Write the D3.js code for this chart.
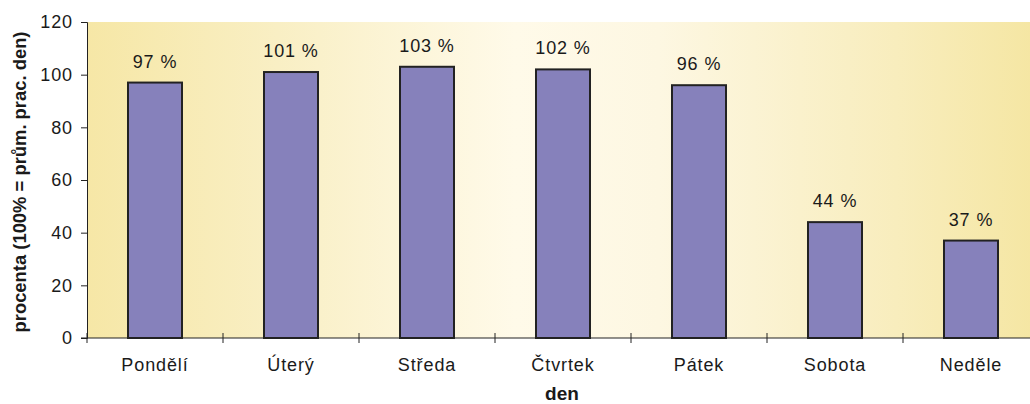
<!DOCTYPE html>
<html>
<head>
<meta charset="utf-8">
<script src="https://cdn.jsdelivr.net/npm/d3@7"></script>
<style>
  html, body { margin: 0; padding: 0; background: #ffffff; }
  svg { display: block; font-family: "Liberation Sans", Arial, Helvetica, sans-serif; }
</style>
</head>
<body>
<svg id="chart" width="1030" height="404"></svg>
<script>
// Days of the week and their traffic relative to the average working day
const days = ["Pondělí", "Úterý", "Středa", "Čtvrtek", "Pátek", "Sobota", "Neděle"];
const percent = [97, 101, 103, 102, 96, 44, 37];
const yTicks = [0, 20, 40, 60, 80, 100, 120];

const svg = d3.select("#chart");
const margin = { left: 87, top: 22, bottom: 66 };
const plotW = 136 * days.length;
const plotH = 404 - margin.top - margin.bottom;

const x = d3.scaleBand().domain(days).range([margin.left, margin.left + plotW]).paddingInner(0).paddingOuter(0);
const y = d3.scaleLinear().domain([0, 120]).range([margin.top + plotH, margin.top]);

// Plot background: pale yellow fading to cream in the middle
const defs = svg.append("defs");
const grad = defs.append("linearGradient").attr("id", "bg").attr("x1", "0").attr("x2", "1").attr("y1", "0").attr("y2", "0");
[[0, "#f6e7a6"], [0.2, "#f9efc4"], [0.45, "#fffae9"], [0.6, "#fdf7e2"], [0.85, "#f8edbd"], [1, "#f5e6a2"]]
  .forEach(([o, c]) => grad.append("stop").attr("offset", o).attr("stop-color", c));

svg.append("rect")
  .attr("x", margin.left).attr("y", margin.top)
  .attr("width", plotW).attr("height", plotH)
  .attr("fill", "url(#bg)");

// Bars
const barW = 54;
svg.append("g").selectAll("rect").data(days).join("rect")
  .attr("x", (d) => x(d) + x.bandwidth() / 2 - barW / 2)
  .attr("y", (d, i) => y(percent[i]))
  .attr("width", barW)
  .attr("height", (d, i) => y(0) - y(percent[i]))
  .attr("fill", "#8681bb")
  .attr("stroke", "#222222")
  .attr("stroke-width", 2);

// Value labels
svg.append("g").selectAll("text").data(days).join("text")
  .attr("x", (d) => x(d) + x.bandwidth() / 2)
  .attr("y", (d, i) => y(percent[i]) - 15)
  .attr("text-anchor", "middle")
  .attr("font-size", 18)
  .attr("letter-spacing", 0.9)
  .attr("fill", "#1a1a1a")
  .text((d, i) => percent[i] + " %");

// Y axis
const yAxis = d3.axisLeft(y).tickValues(yTicks).tickSize(6).tickPadding(8);
const gy = svg.append("g").attr("transform", `translate(${margin.left},0)`).call(yAxis);
gy.select(".domain").attr("stroke", "#222").attr("stroke-width", 1);
gy.selectAll(".tick line").attr("stroke", "#222");
gy.selectAll(".tick text").attr("font-size", 18).attr("letter-spacing", 0.9).attr("fill", "#1a1a1a")
  .attr("font-family", "Liberation Sans, Arial, sans-serif");

// X axis: line at zero with tick marks crossing it at category boundaries
const gx = svg.append("g");
gx.append("line")
  .attr("x1", margin.left - 6).attr("x2", margin.left + plotW)
  .attr("y1", y(0)).attr("y2", y(0))
  .attr("stroke", "#222").attr("stroke-width", 1);
gx.selectAll("line.tick").data(days).join("line")
  .attr("class", "tick")
  .attr("x1", (d) => x(d)).attr("x2", (d) => x(d))
  .attr("y1", y(0) - 5).attr("y2", y(0) + 5)
  .attr("stroke", "#222").attr("stroke-width", 1);
gx.selectAll("text").data(days).join("text")
  .attr("x", (d) => x(d) + x.bandwidth() / 2)
  .attr("y", y(0) + 33)
  .attr("text-anchor", "middle")
  .attr("font-size", 18)
  .attr("letter-spacing", 0.9)
  .attr("fill", "#1a1a1a")
  .text((d) => d);

// Axis titles
svg.append("text")
  .attr("x", x("Čtvrtek") + x.bandwidth() / 2 - 1)
  .attr("y", 400)
  .attr("text-anchor", "middle")
  .attr("font-size", 19)
  .attr("font-weight", "bold")
  .attr("fill", "#1a1a1a")
  .text("den");

svg.append("text")
  .attr("transform", `translate(26,${margin.top + plotH / 2 + 2}) rotate(-90)`)
  .attr("text-anchor", "middle")
  .attr("font-size", 18.4)
  .attr("font-weight", "bold")
  .attr("fill", "#1a1a1a")
  .text("procenta (100% = prům. prac. den)");
</script>
</body>
</html>
